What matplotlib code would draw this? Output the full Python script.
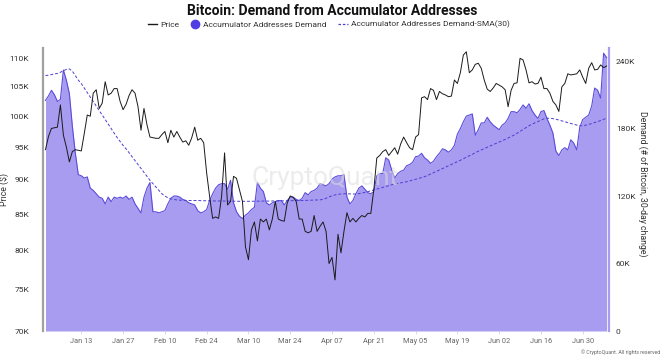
import numpy as np
import pandas as pd
import matplotlib
matplotlib.use("Agg")
import matplotlib.pyplot as plt
from matplotlib.lines import Line2D
from matplotlib.ticker import FixedLocator, FuncFormatter, NullLocator

plt.rcParams['font.family'] = ['Roboto', 'DejaVu Sans']

start_date = "2025-01-01"

price_k = [
    94.6, 96.7, 98.0, 98.1, 98.2, 101.9, 96.9, 95.0, 92.7, 94.3,
    94.6, 94.5, 94.4, 97.2, 100.2, 100.0, 103.9, 104.5, 101.3, 102.2,
    105.9, 103.6, 103.9, 104.7, 104.7, 102.5, 101.1, 102.0, 103.5, 104.5,
    103.9, 101.6, 97.7, 101.3, 98.6, 96.6, 96.5, 96.4, 96.4, 97.0,
    97.5, 95.7, 97.7, 96.6, 97.5, 96.6, 95.8, 96.0, 95.3, 96.5,
    98.2, 96.1, 96.4, 95.7, 91.0, 87.5, 84.4, 84.6, 84.4, 87.5,
    94.1, 86.3, 86.8, 90.5, 90.2, 88.5, 86.8, 80.5, 78.8, 82.8,
    83.9, 81.3, 84.3, 83.9, 84.3, 82.8, 84.3, 86.8, 84.3, 84.1,
    84.0, 86.6, 87.6, 87.4, 86.8, 84.3, 84.3, 82.6, 82.4, 82.6,
    84.8, 82.6, 83.3, 83.9, 82.6, 78.3, 79.1, 76.2, 82.2, 79.7,
    82.6, 85.2, 83.9, 84.4, 83.9, 84.4, 84.8, 84.6, 85.1, 85.1,
    88.5, 93.3, 93.7, 94.3, 94.6, 93.7, 94.3, 94.9, 93.9, 95.5,
    96.6, 95.7, 94.9, 94.6, 96.6, 97.0, 103.1, 103.3, 102.8, 104.7,
    104.4, 102.8, 104.2, 103.8, 103.6, 103.3, 103.4, 106.2, 105.6, 107.5,
    110.7, 111.3, 107.5, 108.0, 109.0, 109.2, 108.3, 106.2, 104.6, 104.2,
    104.8, 105.6, 105.3, 105.0, 104.5, 101.6, 104.4, 105.6, 105.7, 110.1,
    109.8, 108.0, 105.7, 105.9, 105.5, 105.6, 106.7, 104.7, 104.7, 103.9,
    102.5, 101.9, 100.8, 105.0, 105.6, 107.3, 107.1, 107.2, 107.3, 108.0,
    106.7, 105.6, 108.3, 109.3, 108.0, 108.1, 108.9, 108.4, 108.7,
]

demand_k = [
    205, 209, 214, 210, 204, 206, 232, 223, 211, 182,
    158, 139, 138, 136, 137, 127, 125, 122, 119, 118,
    113, 119, 115, 119, 118, 119, 118, 120, 117, 119,
    113, 109, 105, 119, 127, 132, 106, 106, 105, 106,
    107, 113, 118, 120, 120, 119, 117, 116, 114, 113,
    112, 107, 105, 106, 108, 116, 122, 127, 130, 131,
    131, 126, 134, 114, 106, 102, 100, 103, 105, 108,
    110, 132, 127, 124, 114, 112, 114, 115, 116, 116,
    112, 116, 119, 119, 117, 116, 118, 123, 121, 124,
    125, 127, 131, 130, 129, 131, 135, 137, 138, 138,
    139, 119, 113, 116, 122, 127, 129, 126, 123, 122,
    124, 138, 140, 140, 154, 152, 143, 136, 140, 142,
    143, 147, 148, 150, 155, 155.5, 158, 154, 152, 149,
    151, 155, 158, 162, 161, 159, 161, 165, 175, 180,
    186, 191, 192, 193, 174, 179, 185, 185, 190, 186,
    183, 181, 179, 183, 185, 189, 195, 195, 194, 197,
    201, 198, 202, 196, 192, 189, 195, 196, 189, 183,
    176, 160, 156, 161, 163, 161, 170, 167, 161, 181,
    188, 190, 192, 200, 216, 214, 207, 247, 243,
]

sma30_k = [
    227, 227.5, 228, 228.5, 229, 230, 231.5, 232.5, 233, 231,
    227, 223, 220, 216, 212, 208, 204, 200, 196, 192,
    188, 184, 180, 176, 172, 168.5, 165, 162, 158.5, 155,
    151.5, 148, 144.5, 141, 137.5, 134, 131, 128, 125, 122,
    120, 118.5, 117.5, 117, 116.5, 116.3, 116.2, 116.1, 116, 116,
    116, 116, 115.9, 115.8, 115.8, 115.7, 115.7, 115.6, 115.6, 115.6,
    115.5, 115.5, 115.4, 115.4, 115.4, 115.3, 115.3, 115.3, 115.3, 115.3,
    115.4, 115.4, 115.5, 115.5, 115.5, 115.5, 115.6, 115.6, 115.6, 115.7,
    115.7, 115.8, 115.8, 115.9, 115.9, 116, 116, 116.1, 116.2, 116.3,
    116.4, 116.5, 116.6, 117, 118, 119.2, 120.3, 121, 121.5, 121.8,
    122, 122, 121.9, 121.8, 121.8, 122.1, 122.6, 123.2, 123.9, 124.6,
    125.3, 126.1, 126.9, 127.7, 128.5, 129.3, 130, 130.6, 131.2, 131.7,
    132.2, 132.7, 133.4, 134.1, 134.8, 135.6, 136.4, 137.2, 138.3, 139.5,
    140.7, 141.9, 143.1, 144.3, 145.6, 146.9, 148.1, 149.3, 150.5, 151.8,
    153.1, 154.4, 155.8, 157.1, 158.5, 159.8, 161, 162.2, 163.4, 164.6,
    165.7, 166.8, 168, 169.1, 170.3, 171.6, 172.9, 174.2, 175.8, 177.4,
    179.1, 180.8, 182.5, 183.9, 185.1, 186.3, 187.4, 188.6, 189.2, 189.1,
    188.8, 188.3, 187.6, 186.8, 186, 185.2, 184.5, 183.8, 183.1, 182.4,
    182.5, 183, 183.7, 184.4, 185.3, 186.2, 187.1, 188.2, 189.2,
]

xtick_dates = ["2025-01-13", "2025-01-27", "2025-02-10", "2025-02-24", "2025-03-10",
               "2025-03-24", "2025-04-07", "2025-04-21", "2025-05-05", "2025-05-19",
               "2025-06-02", "2025-06-16", "2025-06-30"]
xtick_labels = ["Jan 13", "Jan 27", "Feb 10", "Feb 24", "Mar 10", "Mar 24", "Apr 07",
                "Apr 21", "May 05", "May 19", "Jun 02", "Jun 16", "Jun 30"]
price_ticks_k = [70, 75, 80, 85, 90, 95, 100, 105, 110]
demand_ticks_k = [0, 60, 120, 180, 240]

# ---------------------------------------------------------------
dates = pd.date_range(start_date, periods=len(price_k), freq="D")
price = np.array(price_k) * 1000
demand = np.array(demand_k) * 1000
sma = np.array(sma30_k) * 1000

FILL = "#a89cf0"
EDGE = "#5a4ddb"
SMA_C = "#4a3fd0"

fig = plt.figure(figsize=(6.64, 3.64), dpi=100)
L, R, B, T = 43 / 664, 609 / 664, (364 - 331) / 364, (364 - 48) / 364
ax = fig.add_axes([L, B, R - L, T - B])
ax2 = ax.twinx()

# demand on right axis (drawn underneath)
ax2.fill_between(dates, 0, demand, color=FILL, lw=0, zorder=1)
ax2.plot(dates, demand, color=EDGE, lw=0.8, zorder=2)
ax2.plot(dates, sma, color=SMA_C, lw=0.7, ls=(0, (3, 2)), zorder=3)
ax2.set_ylim(0, 251600)

# price on left (log) axis, on top
ax.set_zorder(ax2.get_zorder() + 1)
ax.patch.set_visible(False)
ax.plot(dates, price, color="#1a1a1a", lw=0.7, zorder=4)
ax.set_yscale("log")
ax.set_ylim(70000, 112000)
ax.yaxis.set_major_locator(FixedLocator([v * 1000 for v in price_ticks_k]))
ax.yaxis.set_minor_locator(NullLocator())
ax.yaxis.set_major_formatter(FuncFormatter(lambda v, p: f"{v/1000:.0f}K"))

ax2.yaxis.set_major_locator(FixedLocator([v * 1000 for v in demand_ticks_k]))
ax2.yaxis.set_major_formatter(FuncFormatter(lambda v, p: "0" if v == 0 else f"{v/1000:.0f}K"))

x0 = dates[0] - pd.Timedelta(hours=20)
x1 = dates[0] + pd.Timedelta(days=188.8)
ax.set_xlim(x0, x1)
ax.set_xticks(pd.to_datetime(xtick_dates))
ax.set_xticklabels(xtick_labels)

for a in (ax, ax2):
    for s in ("top", "bottom"):
        a.spines[s].set_visible(False)
ax.spines["right"].set_visible(False)
ax2.spines["left"].set_visible(False)
ax.spines["left"].set_color("#a0a0a0")
ax.spines["left"].set_linewidth(1.6)
ax2.spines["right"].set_color(FILL)
ax2.spines["right"].set_linewidth(1.6)

ax.tick_params(axis="y", length=0, labelsize=6, labelcolor="#333333", pad=10)
ax2.tick_params(axis="y", length=0, labelsize=6, labelcolor="#333333", pad=5)
ax.tick_params(axis="x", length=2, width=0.5, color="#cccccc", labelsize=5.3,
               labelcolor="#666666", pad=3)

ax.set_ylabel("Price ($)", fontsize=6.3, color="#333333")
ax.yaxis.set_label_coords((10 - 43) / 566, 0.5)
ax2.set_ylabel("Demand (# of Bitcoin, 30-day change)", fontsize=6.3, color="#333333",
               rotation=270, va="center")
ax2.yaxis.set_label_coords((643 - 43) / 566, 0.52)

fig.text(0.5, 1 - 11 / 364, "Bitcoin: Demand from Accumulator Addresses",
         ha="center", va="center", fontsize=10, fontweight="bold", color="#111111")

handles = [
    Line2D([], [], color="#1a1a1a", lw=1.0),
    Line2D([], [], color="#4f3fe0", marker="o", ls="none", markersize=6),
    Line2D([], [], color=SMA_C, lw=0.9, ls=(0, (2, 1.5))),
]
labels = ["Price", "Accumulator Addresses Demand", "Accumulator Addresses Demand-SMA(30)"]
fig.legend(handles, labels, loc="center", bbox_to_anchor=(0.495, 1 - 24.5 / 364), ncol=3,
           frameon=False, fontsize=6.0, handlelength=1.1, handletextpad=0.4,
           columnspacing=1.4, labelcolor="#333333")

fig.text(0.49, 0.51, "CryptoQuant", ha="center", va="center", fontsize=19,
         color="#dddddd", alpha=0.55, zorder=10)
fig.text(0.995, 1 - 352 / 364, "\u00a9 CryptoQuant. All rights reserved", ha="right",
         va="center", fontsize=3.8, color="#666666")

fig.savefig("out.png", dpi=100)
